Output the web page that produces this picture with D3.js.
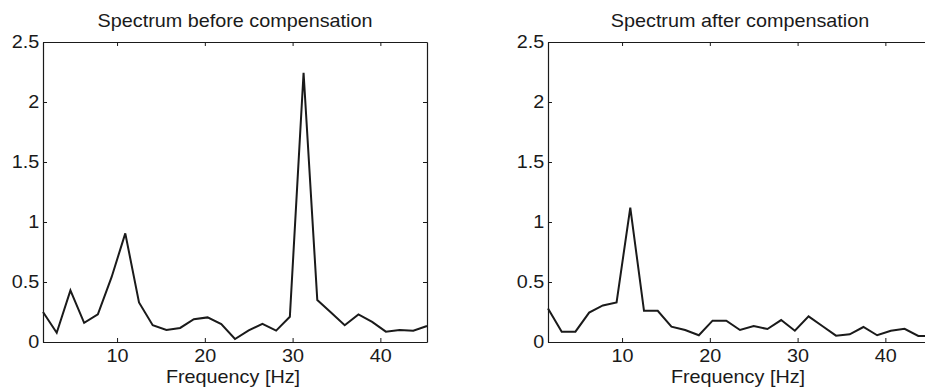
<!DOCTYPE html>
<html>
<head>
<meta charset="utf-8">
<script src="https://cdn.jsdelivr.net/npm/d3@7"></script>
<style>
  html, body { margin: 0; padding: 0; background: #fff; }
  svg { display: block; }
  text { font-family: "Liberation Sans", Arial, Helvetica, sans-serif; fill: #1a1a1a; }
</style>
</head>
<body>
<svg id="chart" width="925" height="387"></svg>
<script>
// Frequency bins (Hz)
const freqs = [1.5625, 3.125, 4.6875, 6.25, 7.8125, 9.375, 10.9375, 12.5, 14.0625, 15.625,
               17.1875, 18.75, 20.3125, 21.875, 23.4375, 25, 26.5625, 28.125, 29.6875, 31.25,
               32.8125, 34.375, 35.9375, 37.5, 39.0625, 40.625, 42.1875, 43.75, 45.3125];

// Amplitude spectrum before compensation
const before = [0.25, 0.077, 0.43, 0.16, 0.23, 0.54, 0.905, 0.33, 0.14, 0.10,
                0.117, 0.19, 0.205, 0.15, 0.025, 0.097, 0.152, 0.095, 0.21, 2.244,
                0.35, 0.245, 0.14, 0.23, 0.167, 0.086, 0.10, 0.094, 0.133];

// Amplitude spectrum after compensation
const after = [0.28, 0.086, 0.086, 0.245, 0.305, 0.33, 1.12, 0.26, 0.26, 0.128,
               0.10, 0.056, 0.178, 0.178, 0.10, 0.133, 0.108, 0.183, 0.094, 0.214,
               0.133, 0.053, 0.064, 0.125, 0.056, 0.094, 0.11, 0.05, 0.05];

const titles = ["Spectrum before compensation", "Spectrum after compensation"];
const xLabel = "Frequency [Hz]";
const xTicks = [10, 20, 30, 40];
const yTicks = [0, 0.5, 1, 1.5, 2, 2.5];

const svg = d3.select("#chart");
const fontSize = 18;
const stretch = 1.1;   // slightly widened lettering

const panels = [
  { left: 43, right: 427, values: before, title: titles[0] },
  { left: 548, right: 932, values: after, title: titles[1] }
];
const plotTop = 42, plotBottom = 342;

panels.forEach(p => {
  const x = d3.scaleLinear().domain([freqs[0], freqs[freqs.length - 1]]).range([p.left, p.right]);
  const y = d3.scaleLinear().domain([0, 2.5]).range([plotBottom, plotTop]);
  const g = svg.append("g");

  const styleAxis = sel => {
    sel.selectAll("path.domain").attr("stroke", "#1a1a1a").attr("stroke-width", 1.2);
    sel.selectAll(".tick line").attr("stroke", "#1a1a1a").attr("stroke-width", 1);
    sel.selectAll(".tick text")
      .style("font-size", fontSize + "px")
      .attr("fill", "#1a1a1a")
      .attr("transform", `scale(${stretch},1)`);
  };

  g.append("g").attr("transform", `translate(0,${plotBottom})`)
    .call(d3.axisBottom(x).tickValues(xTicks).tickSizeInner(-4).tickSizeOuter(0).tickPadding(7))
    .call(styleAxis);
  g.append("g").attr("transform", `translate(0,${plotTop})`)
    .call(d3.axisTop(x).tickValues(xTicks).tickSizeInner(-4).tickSizeOuter(0).tickFormat(""))
    .call(styleAxis);
  g.append("g").attr("transform", `translate(${p.left},0)`)
    .call(d3.axisLeft(y).tickValues(yTicks).tickSizeInner(-4).tickSizeOuter(0).tickPadding(3.5)
      .tickFormat(d3.format("~g")))
    .call(styleAxis);
  g.append("g").attr("transform", `translate(${p.right},0)`)
    .call(d3.axisRight(y).tickValues(yTicks).tickSizeInner(-4).tickSizeOuter(0).tickFormat(""))
    .call(styleAxis);

  const line = d3.line().x((d, i) => x(freqs[i])).y(d => y(d));
  g.append("path").datum(p.values)
    .attr("d", line)
    .attr("fill", "none")
    .attr("stroke", "#1a1a1a")
    .attr("stroke-width", 2)
    .attr("stroke-linejoin", "miter");

  g.append("text")
    .attr("transform", `translate(${(p.left + p.right) / 2},27) scale(${stretch},1)`)
    .attr("text-anchor", "middle")
    .style("font-size", fontSize + "px")
    .text(p.title);

  g.append("text")
    .attr("transform", `translate(${(p.left + p.right) / 2 - 2},383) scale(${stretch},1)`)
    .attr("text-anchor", "middle")
    .style("font-size", fontSize + "px")
    .text(xLabel);
});
</script>
</body>
</html>
